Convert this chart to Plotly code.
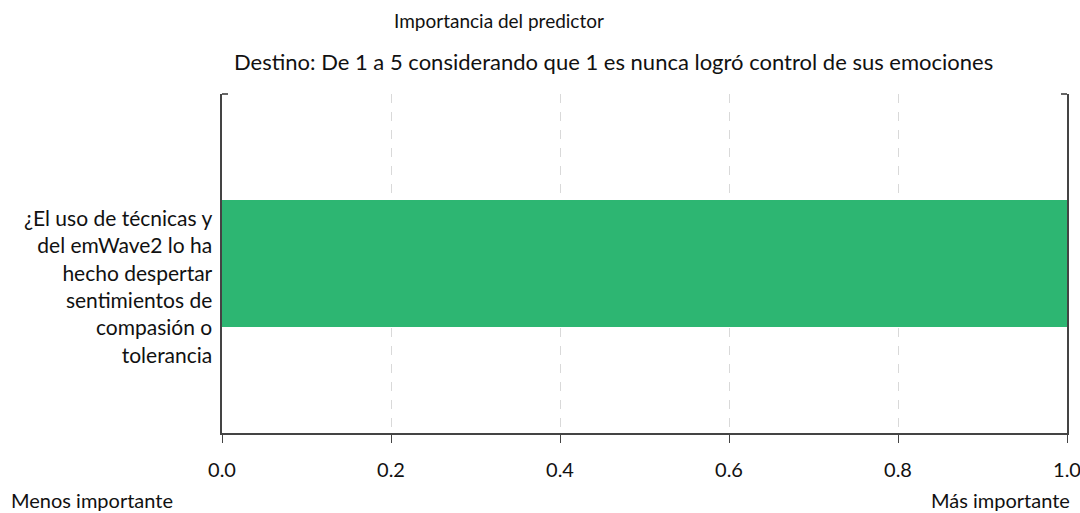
import plotly.graph_objects as go

categories = ["¿El uso de técnicas y<br>del emWave2 lo ha<br>hecho despertar<br>sentimientos de<br>compasión o<br>tolerancia"]
importance = [1.0]
tick_vals = [0.0, 0.2, 0.4, 0.6, 0.8, 1.0]
tick_text = ["0.0", "0.2", "0.4", "0.6", "0.8", "1.0"]

FONT = "Lato, 'Open Sans', sans-serif"
L, R, T, B = 222, 13, 94, 80
PW, PH = 1080 - L - R, 513 - T - B

def px(x):
    return (x - L) / PW

def py(y):
    return (513 - B - y) / PH

fig = go.Figure()
fig.add_trace(go.Bar(
    x=importance, y=categories, orientation="h",
    marker=dict(color="rgb(45,182,114)", line=dict(width=0)),
    width=0.375, hoverinfo="x+y",
))

fig.update_layout(
    width=1080, height=513,
    margin=dict(l=L, r=R, t=T, b=B, autoexpand=False),
    paper_bgcolor="white", plot_bgcolor="white",
    font=dict(family=FONT, size=21, color="#111"),
    showlegend=False,
    bargap=0,
)
fig.update_xaxes(
    range=[0, 1.0], tickvals=tick_vals, ticktext=tick_text,
    showgrid=True, gridcolor="#d9d9d9", griddash="dash", gridwidth=1,
    showline=True, linecolor="#444", linewidth=1.5,
    ticks="outside", ticklen=8, tickcolor="#444", ticklabelstandoff=10,
    ticklabeloverflow="allow",
    zeroline=False, tickfont=dict(size=20), fixedrange=True, automargin=False,
)
fig.update_yaxes(
    range=[-0.5, 0.5], showgrid=False, zeroline=False,
    showline=True, linecolor="#444", linewidth=1.5, mirror=True,
    ticks="", showticklabels=False, automargin=False, fixedrange=True,
)
# y category label, drawn as an annotation so it can sit like the reference
fig.add_annotation(text=categories[0], xref="paper", yref="y",
                   x=0, y=categories[0], xanchor="right", yanchor="middle",
                   xshift=-7, yshift=-22, align="right", showarrow=False,
                   font=dict(size=21))

# small corner ticks at top
fig.add_shape(type="line", xref="paper", yref="paper", x0=0, x1=px(228), y0=1, y1=1,
              line=dict(color="#333", width=1.5))
fig.add_shape(type="line", xref="paper", yref="paper", x0=px(1061), x1=1, y0=1, y1=1,
              line=dict(color="#333", width=1.5))

fig.add_annotation(text="Importancia del predictor", xref="paper", yref="paper",
                   x=px(499), y=py(20), xanchor="center", yanchor="middle",
                   showarrow=False, font=dict(size=19))
fig.add_annotation(text="Destino: De 1 a 5 considerando que 1 es nunca logró control de sus emociones",
                   xref="paper", yref="paper",
                   x=px(613), y=py(61), xanchor="center", yanchor="middle",
                   showarrow=False, font=dict(size=22))
fig.add_annotation(text="Menos importante", xref="paper", yref="paper",
                   x=px(9), y=py(500), xanchor="left", yanchor="middle",
                   showarrow=False, font=dict(size=20))
fig.add_annotation(text="Más importante", xref="paper", yref="paper",
                   x=px(1072), y=py(500), xanchor="right", yanchor="middle",
                   showarrow=False, font=dict(size=20))

fig.write_html("out.html", config={"displayModeBar": False},
               post_script="document.body.style.margin='0';document.body.style.overflow='hidden';")
